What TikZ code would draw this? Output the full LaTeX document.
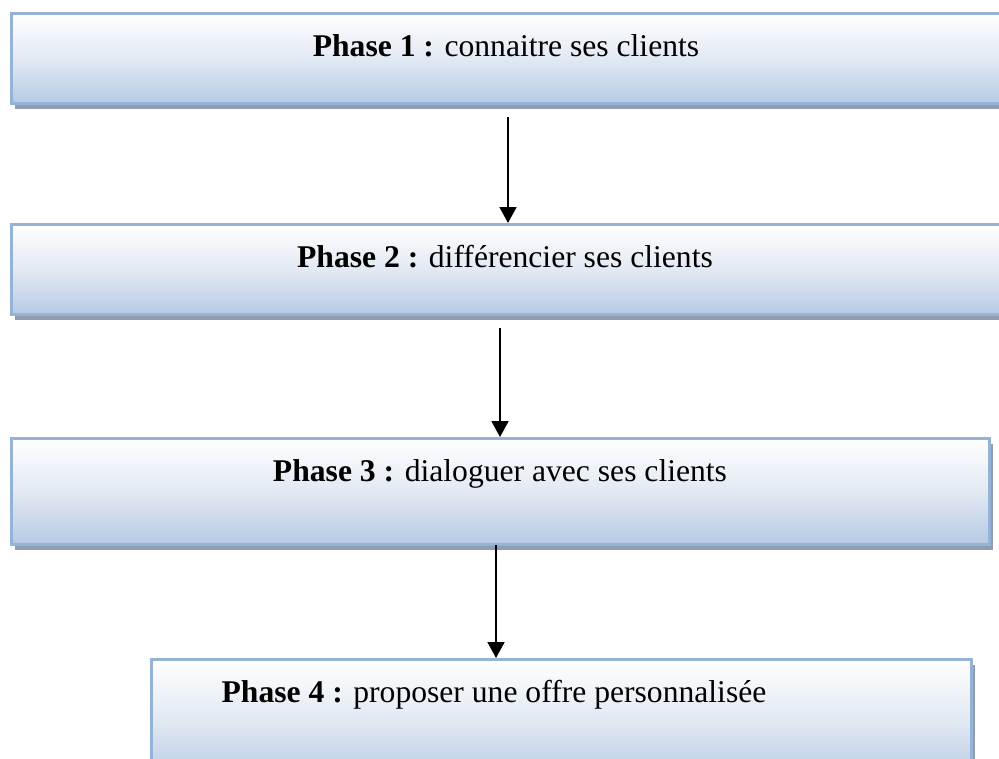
\documentclass[tikz,border=0pt]{standalone}
\usepackage{fontspec}
\setmainfont{Liberation Serif}
\usetikzlibrary{arrows.meta,shadows}

\definecolor{boxline}{RGB}{149,179,215}
\definecolor{boxfill}{RGB}{182,202,228}
\definecolor{boxmid}{RGB}{226,233,243}
\definecolor{boxshadow}{RGB}{143,159,179}

\tikzset{
	phase/.style = {rectangle, draw=boxline, line width=1.6pt, anchor=north west,
		top color=white, bottom color=boxfill, middle color=boxmid,
		drop shadow={shadow xshift=2.2pt, shadow yshift=-3pt, fill=boxshadow, opacity=1}},
	phasetext/.style = {anchor=base, font=\fontsize{18}{22}\selectfont},
	flow/.style = {-{Triangle[length=9pt,width=9.5pt]}, line width=1.3pt}
}

\begin{document}
\begin{tikzpicture}[x=0.02cm, y=-0.02cm]
	\useasboundingbox (0,0) rectangle (999,758);
	\clip (0,0) rectangle (999,758);

	\node [phase, minimum width=20cm, minimum height=1.8cm] (p1) at (10,12) {};
	\node [phase, minimum width=20cm, minimum height=1.8cm] (p2) at (10,223) {};
	\node [phase, minimum width=19.56cm, minimum height=2.12cm] (p3) at (10,437) {};
	\node [phase, minimum width=16.4cm, minimum height=2.4cm] (p4) at (150,658) {};

	\node [phasetext] (t1) at (506,56) {\textbf{Phase 1 :} connaitre ses clients};
	\node [phasetext] (t2) at (505,267) {\textbf{Phase 2 :} différencier ses clients};
	\node [phasetext] (t3) at (500,481) {\textbf{Phase 3 :} dialoguer avec ses clients};
	\node [phasetext] (t4) at (494,702) {\textbf{Phase 4 :} proposer une offre personnalisée};

	\coordinate (a1) at (508,117);
	\coordinate (a2) at (500,328);
	\coordinate (a3) at (496,545);
	\draw [flow] (a1) -- (a1 |- p2.north);
	\draw [flow] (a2) -- (a2 |- p3.north);
	\draw [flow] (a3) -- (a3 |- p4.north);
\end{tikzpicture}
\end{document}
